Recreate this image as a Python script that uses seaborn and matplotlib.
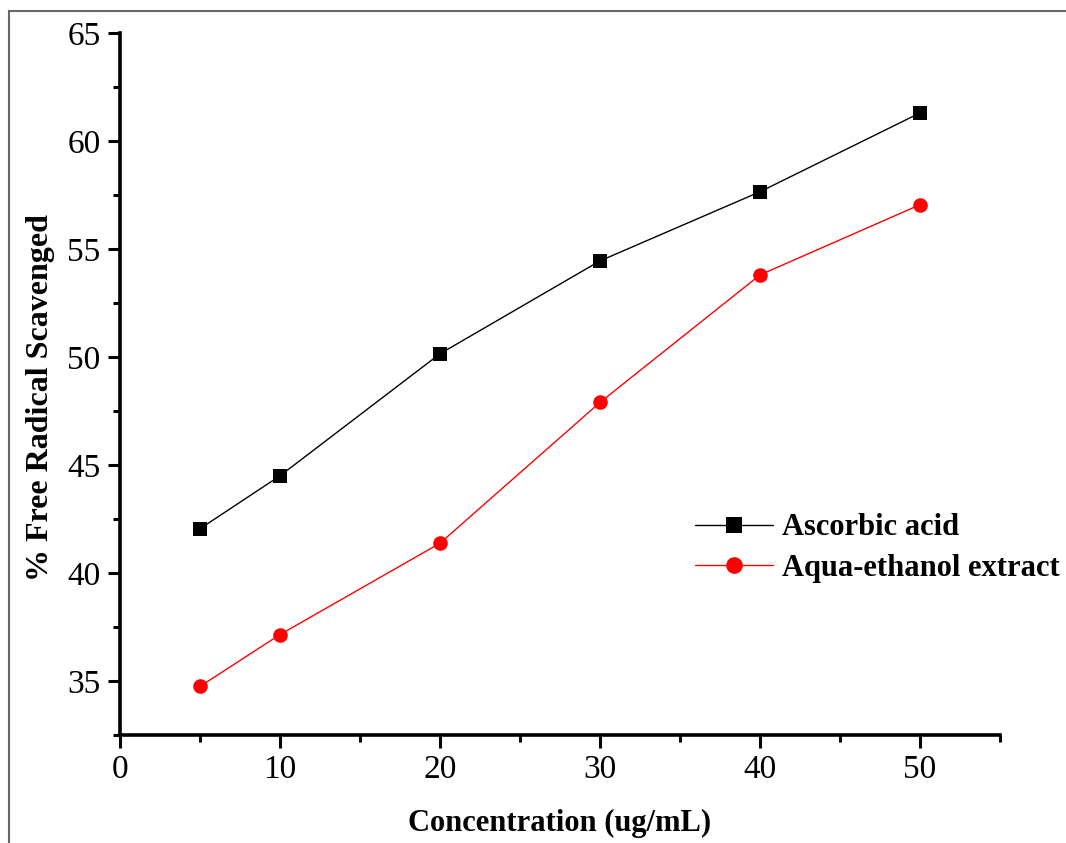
import matplotlib
matplotlib.use("Agg")
import matplotlib.pyplot as plt
import matplotlib.patches as patches
from matplotlib.ticker import MultipleLocator
import pandas as pd
import seaborn as sns

# ----------------------------
# Data
# ----------------------------
concentration = [5, 10, 20, 30, 40, 50]
ascorbic_acid = [42.05, 44.5, 50.15, 54.45, 57.65, 61.3]
aqua_ethanol = [34.75, 37.15, 41.38, 47.9, 53.8, 57.05]
series_names = ["Ascorbic acid", "Aqua-ethanol extract"]

df = pd.DataFrame({
    "Concentration": concentration * 2,
    "Scavenged": ascorbic_acid + aqua_ethanol,
    "Sample": [series_names[0]] * len(concentration) + [series_names[1]] * len(concentration),
})

sns.set_style("ticks")
plt.rcParams["font.family"] = ["Liberation Serif", "DejaVu Serif"]
plt.rcParams["text.color"] = "black"
plt.rcParams["axes.labelcolor"] = "black"
plt.rcParams["xtick.color"] = "black"
plt.rcParams["ytick.color"] = "black"
plt.rcParams["axes.edgecolor"] = "black"

W, H = 1066, 843
fig = plt.figure(figsize=(W / 100, H / 100), dpi=100)
ax = fig.add_axes([120 / W, (H - 735) / H, 880 / W, 702 / H])

sns.lineplot(
    data=df, x="Concentration", y="Scavenged", hue="Sample", style="Sample",
    palette=["black", "red"], markers=["s", "o"], dashes=False,
    markersize=10.5, linewidth=1, markeredgewidth=0, ax=ax, legend=False,
)

ax.set_xlim(0, 55)
ax.set_ylim(32.5, 65)
ax.xaxis.set_major_locator(MultipleLocator(10))
ax.xaxis.set_minor_locator(MultipleLocator(5))
ax.yaxis.set_major_locator(MultipleLocator(5))
ax.yaxis.set_minor_locator(MultipleLocator(2.5))
ax.tick_params(which="major", direction="out", length=9, width=2.2, labelsize=24, pad=5)
ax.tick_params(which="minor", direction="out", length=5, width=2.2)

for s in ["top", "right"]:
    ax.spines[s].set_visible(False)
for s in ["left", "bottom"]:
    ax.spines[s].set_linewidth(2.6)

ax.set_xlabel("Concentration (ug/mL)", fontsize=22, fontweight="bold")
ax.set_ylabel("% Free Radical Scavenged", fontsize=23, fontweight="bold")
ax.xaxis.set_label_coords(0.5, -0.106)
ax.yaxis.set_label_coords(-0.074, 0.481)

# legend
handles = [
    plt.Line2D([], [], color="black", lw=1, marker="s", markersize=11, markeredgewidth=0),
    plt.Line2D([], [], color="red", lw=1, marker="o", markersize=12, markeredgewidth=0),
]
leg = ax.legend(
    handles, series_names, loc="center left", frameon=False,
    bbox_to_anchor=(683 / W, (H - 548) / H), bbox_transform=fig.transFigure,
    prop={"family": "Liberation Serif", "weight": "bold", "size": 22},
    handlelength=2.55, handletextpad=0.3, labelspacing=0.38, borderaxespad=0,
)

# outer frame (cropped figure border)
fig.patches.append(patches.Rectangle(
    (9 / W, -0.1), 2, (H - 11) / H + 0.1, transform=fig.transFigure,
    fill=False, edgecolor="#666666", linewidth=1.5, clip_on=False,
))

fig.savefig("out.png", dpi=100)
